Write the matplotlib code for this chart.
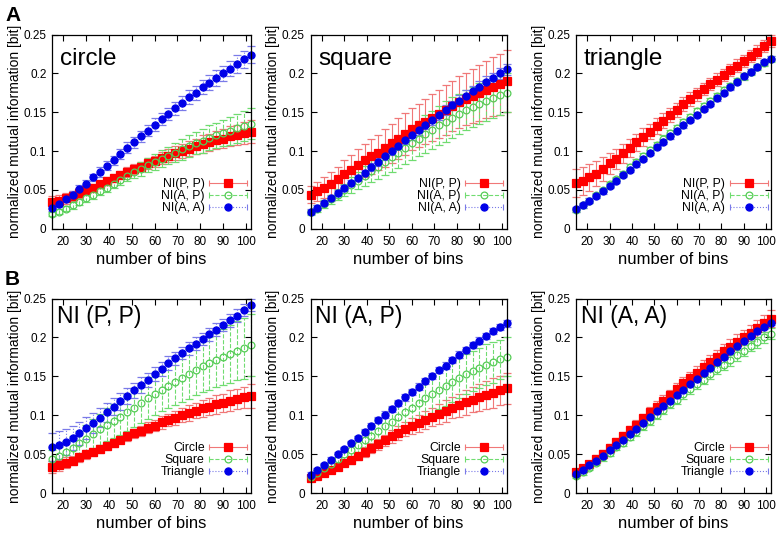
import numpy as np
import matplotlib
matplotlib.use('Agg')
import matplotlib.pyplot as plt
from matplotlib.lines import Line2D
from matplotlib.legend_handler import HandlerBase
from matplotlib.container import ErrorbarContainer

plt.rcParams['font.family'] = ['Liberation Sans', 'DejaVu Sans']

bins = [15, 18, 21, 24, 27, 30, 33, 36, 39, 42, 45, 48, 51, 54, 57,
        60, 63, 66, 69, 72, 75, 78, 81, 84, 87, 90, 93, 96, 99, 102]

# circle
circle_pp = [.034, .036, .039, .042, .046, .050, .053, .057, .061, .065, .069, .073, .077, .080, .084,
             .087, .091, .094, .097, .100, .103, .106, .109, .111, .114, .116, .119, .121, .123, .125]
circle_pp_err = [.008, .007, .007, .006, .006, .006, .005, .005, .005, .005, .005, .006, .006, .006, .007,
                 .007, .008, .008, .009, .009, .010, .010, .011, .011, .012, .012, .013, .013, .014, .015]
circle_ap = [.019, .022, .026, .030, .034, .039, .043, .048, .053, .058, .063, .068, .073, .077, .082,
             .086, .090, .094, .098, .102, .106, .110, .113, .117, .120, .123, .126, .129, .132, .135]
circle_ap_err = [.003, .003, .003, .004, .004, .004, .005, .005, .006, .006, .007, .007, .008, .009, .009,
                 .010, .011, .011, .012, .013, .014, .014, .015, .016, .016, .017, .018, .019, .019, .020]
circle_aa = [.027, .032, .038, .044, .051, .058, .066, .073, .081, .088, .096, .104, .111, .119, .126,
             .134, .141, .148, .155, .162, .169, .175, .182, .188, .194, .200, .206, .212, .218, .224]
circle_aa_err = [.004, .004, .004, .005, .005, .005, .005, .006, .006, .006, .006, .007, .007, .007, .007,
                 .008, .008, .008, .008, .009, .009, .009, .009, .010, .010, .010, .010, .011, .011, .011]

# square
square_pp = [.044, .048, .053, .058, .064, .070, .076, .082, .088, .093, .098, .104, .110, .116, .122,
             .128, .133, .138, .143, .148, .153, .158, .163, .167, .171, .175, .179, .183, .186, .190]
square_pp_err = [.011, .012, .014, .015, .016, .018, .019, .020, .021, .022, .023, .024, .025, .026, .027,
                 .027, .028, .029, .030, .031, .032, .032, .033, .034, .035, .036, .037, .038, .039, .040]
square_ap = [.021, .026, .032, .038, .044, .050, .056, .062, .068, .074, .080, .086, .092, .098, .104,
             .110, .116, .122, .127, .133, .138, .143, .148, .153, .157, .161, .165, .168, .172, .175]
square_ap_err = [.003, .004, .005, .006, .007, .008, .010, .011, .013, .014, .016, .017, .019, .020, .021,
                 .022, .023, .024, .025, .025, .026, .026, .026, .026, .026, .026, .026, .026, .025, .025]
square_aa = [.022, .027, .033, .039, .046, .052, .059, .065, .072, .079, .086, .093, .100, .107, .114,
             .120, .127, .134, .140, .146, .153, .159, .165, .171, .177, .183, .189, .194, .200, .205]
square_aa_err = [.003, .003, .003, .003, .004, .004, .004, .004, .004, .005, .005, .005, .005, .005, .005,
                 .006, .006, .006, .006, .006, .006, .006, .007, .007, .007, .007, .007, .007, .007, .007]

# triangle
triangle_pp = [.059, .062, .066, .071, .077, .084, .090, .097, .104, .111, .118, .125, .132, .139, .146,
               .153, .160, .167, .173, .180, .186, .192, .198, .204, .210, .216, .222, .228, .235, .242]
triangle_pp_err = [.018, .018, .017, .016, .015, .014, .013, .012, .012, .011, .011, .010, .010, .010, .009,
                   .009, .009, .009, .008, .008, .008, .008, .008, .008, .008, .008, .008, .008, .008, .008]
triangle_ap = [.024, .030, .036, .043, .050, .057, .064, .071, .079, .086, .094, .101, .108, .116, .123,
               .130, .137, .144, .151, .158, .164, .171, .178, .184, .190, .196, .202, .208, .213, .218]
triangle_ap_err = [.003, .003, .003, .003, .003, .003, .003, .003, .004, .004, .004, .004, .004, .004, .004,
                   .004, .004, .004, .004, .004, .004, .004, .004, .004, .004, .004, .004, .004, .004, .004]
triangle_aa = [.025, .030, .036, .042, .048, .055, .062, .069, .076, .083, .090, .098, .105, .112, .119,
               .126, .133, .140, .147, .154, .161, .168, .175, .182, .189, .196, .202, .208, .214, .219]
triangle_aa_err = [.003, .003, .003, .003, .003, .003, .003, .003, .003, .003, .003, .003, .003, .003, .003,
                   .003, .003, .003, .003, .003, .003, .003, .003, .003, .003, .003, .003, .003, .003, .003]

measure_labels = ['NI(P, P)', 'NI(A, P)', 'NI(A, A)']
shape_labels = ['Circle', 'Square', 'Triangle']
row_a_titles = ['circle', 'square', 'triangle']
row_b_titles = ['NI (P, P)', 'NI (A, P)', 'NI (A, A)']

data = {
    'circle': [(circle_pp, circle_pp_err), (circle_ap, circle_ap_err), (circle_aa, circle_aa_err)],
    'square': [(square_pp, square_pp_err), (square_ap, square_ap_err), (square_aa, square_aa_err)],
    'triangle': [(triangle_pp, triangle_pp_err), (triangle_ap, triangle_ap_err), (triangle_aa, triangle_aa_err)],
}

styles = [
    dict(color='#ff0000', ecolor='#f07878', marker='s', ms=5.3, mfc='#ff0000', ls='-'),
    dict(color='#55cc55', ecolor='#70dc70', marker='o', ms=4.9, mfc='none', ls='--'),
    dict(color='#0000e8', ecolor='#7a7ae8', marker='o', ms=5.1, mfc='#0000e8', ls=':'),
]


class ErrorbarKey(HandlerBase):
    # gnuplot-like key: horizontal bar with end caps, marker in the middle
    def create_artists(self, legend, orig_handle, xdescent, ydescent, width, height, fontsize, trans):
        st = orig_handle.key_style
        y = height / 2 - ydescent
        x0, x1 = -xdescent, width - xdescent
        bar = Line2D([x0, x1], [y, y], color=st['ecolor'], lw=0.8, ls=st['ls'])
        caps = Line2D([x0, x1], [y, y], ls='none', marker='|', ms=5, mew=0.8, color=st['ecolor'])
        mark = Line2D([(x0 + x1) / 2], [y], ls='none', marker=st['marker'], ms=st['ms'],
                      mfc=st['mfc'], mec=st['color'], mew=0.9)
        for a in (bar, caps, mark):
            a.set_transform(trans)
        return [bar, caps, mark]


def draw_panel(ax, series, labels, title, title_pos, title_size):
    handles = []
    for (y, e), st, lab in zip(series, styles, labels):
        c = ax.errorbar(bins, y, yerr=e, ls='none', marker=st['marker'], ms=st['ms'],
                        mfc=st['mfc'], mec=st['color'], mew=0.9, ecolor=st['ecolor'],
                        elinewidth=0.8, capsize=3, capthick=0.8, clip_on=False, label=lab)
        c[2][0].set_linestyle(st['ls'])
        for cap in c[1]:
            cap.set_clip_on(False)
        c[2][0].set_clip_on(False)
        c.key_style = st
        handles.append(c)

    ax.set_xlim(15, 102)
    ax.set_ylim(0, 0.25)
    ax.set_xticks([20, 30, 40, 50, 60, 70, 80, 90, 100])
    ax.set_yticks([0, 0.05, 0.1, 0.15, 0.2, 0.25])
    ax.set_yticklabels(['0', '0.05', '0.1', '0.15', '0.2', '0.25'])
    ax.tick_params(direction='in', top=True, right=True, length=4, width=0.8, labelsize=8.5)
    ax.tick_params(axis='x', pad=5)
    ax.tick_params(axis='y', pad=4)
    for s in ax.spines.values():
        s.set_linewidth(0.9)
    ax.set_xlabel('number of bins', fontsize=12, labelpad=3)
    ax.set_ylabel('normalized mutual information [bit]', fontsize=10, labelpad=1)
    ax.text(title_pos[0], title_pos[1], title, transform=ax.transAxes, fontsize=title_size,
            ha='left', va='top')
    ax.legend(handles=handles, labels=labels, handler_map={ErrorbarContainer: ErrorbarKey()},
              loc='lower right', bbox_to_anchor=(0.99, 0.07), frameon=False, markerfirst=False,
              fontsize=8.8, labelspacing=0.0, handlelength=3.1, handletextpad=0.4,
              borderpad=0.1, borderaxespad=0)


W, H = 782, 537
fig = plt.figure(figsize=(W / 100, H / 100), dpi=100)

cols = [(52, 250.5), (310.5, 506.5), (576, 770.7)]
rows = [(34.5, 228.7), (298.5, 493.3)]


def px_axes(col, row):
    l, r = cols[col]
    t, b = rows[row]
    return fig.add_axes([l / W, 1 - b / H, (r - l) / W, (b - t) / H])


shapes = ['circle', 'square', 'triangle']
for i, shape in enumerate(shapes):
    ax = px_axes(i, 0)
    draw_panel(ax, data[shape], measure_labels, row_a_titles[i], (0.04, 0.93), 17.5)

for j in range(3):
    ax = px_axes(j, 1)
    series = [data[s][j] for s in shapes]
    draw_panel(ax, series, shape_labels, row_b_titles[j], (0.025, 0.965), 16.5)

fig.text(5 / W, 1 - 6 / H, 'A', fontsize=15, fontweight='bold', ha='left', va='top')
fig.text(5 / W, 1 - 270 / H, 'B', fontsize=15, fontweight='bold', ha='left', va='top')

fig.savefig('out.png', dpi=100)
